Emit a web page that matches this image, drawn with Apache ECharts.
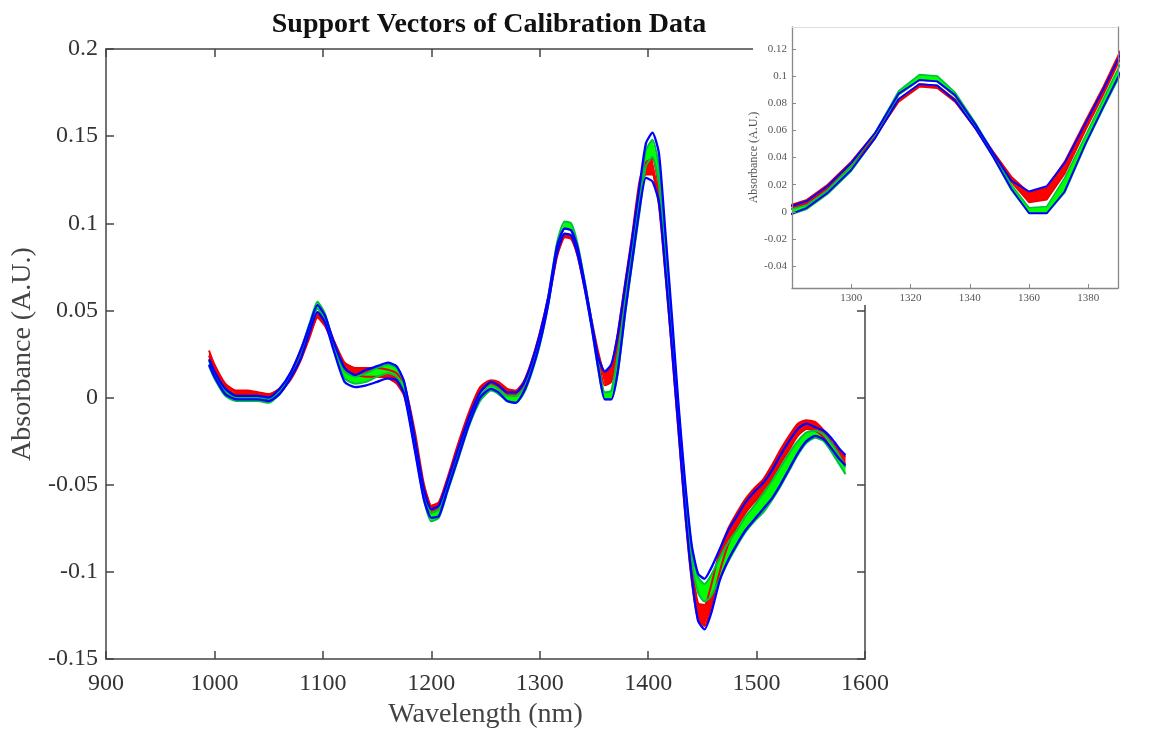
<!DOCTYPE html>
<html><head><meta charset="utf-8">
<script src="https://cdn.jsdelivr.net/npm/echarts@6/dist/echarts.min.js"></script>
<style>html,body{margin:0;padding:0;background:#fff}#c{width:1149px;height:734px}</style>
</head><body><div id="c"></div>
<script>
// Wavelengths (nm)
const W = [995, 1000, 1010, 1020, 1030, 1040, 1050, 1060, 1070, 1080,
  1088, 1095, 1102, 1110, 1120, 1130, 1140, 1150, 1160, 1168,
  1175, 1185, 1193, 1200, 1207, 1215, 1225, 1235, 1245, 1255,
  1262, 1270, 1278, 1285, 1292, 1300, 1308, 1316, 1323, 1329,
  1335, 1342, 1348, 1354, 1360, 1366, 1372, 1379, 1385, 1392,
  1398, 1404, 1410, 1416, 1422, 1428, 1434, 1440, 1446, 1452,
  1458, 1466, 1474, 1482, 1490, 1498, 1506, 1514, 1522, 1530,
  1538, 1546, 1554, 1562, 1570, 1576, 1582];

// Red group envelope
const redHi = [.027,.019,.008,.004,.004,.003,.002,.005,.013,.026,
  .039,.049,.045,.033,.020,.017,.017,.017,.016,.014,
  .008,-.020,-.049,-.062,-.060,-.046,-.026,-.008,.006,.010,
  .009,.005,.004,.009,.020,.037,.058,.083,.094,.093,
  .083,.063,.044,.026,.014,.018,.037,.067,.092,.124,
  .135,.137,.118,.078,.034,-.012,-.058,-.095,-.118,-.119,
  -.108,-.088,-.075,-.066,-.058,-.052,-.047,-.039,-.030,-.022,
  -.015,-.013,-.014,-.019,-.026,-.030,-.034];
const redLo = [.024,.016,.006,.002,.002,.001,.000,.003,.010,.022,
  .035,.046,.041,.030,.016,.013,.012,.012,.011,.008,
  .001,-.026,-.054,-.066,-.064,-.050,-.030,-.011,.003,.008,
  .006,.002,.001,.006,.017,.034,.055,.081,.092,.091,
  .081,.061,.041,.022,.007,.009,.028,.060,.086,.118,
  .128,.128,.110,.070,.026,-.020,-.066,-.104,-.127,-.131,
  -.120,-.100,-.084,-.074,-.066,-.060,-.055,-.047,-.038,-.030,
  -.022,-.018,-.019,-.023,-.030,-.035,-.038];

// Green group envelope
const greenHi = [.021,.014,.004,.000,.000,.000,-.001,.004,.014,.028,
  .043,.055,.048,.031,.015,.012,.014,.017,.019,.017,
  .008,-.024,-.053,-.066,-.064,-.050,-.031,-.013,.001,.007,
  .005,.001,.001,.005,.016,.034,.058,.089,.101,.100,
  .088,.065,.043,.020,.003,.004,.025,.056,.083,.114,
  .142,.148,.132,.088,.042,-.006,-.050,-.085,-.103,-.107,
  -.102,-.092,-.083,-.076,-.068,-.062,-.055,-.048,-.040,-.032,
  -.025,-.020,-.019,-.021,-.027,-.033,-.040];
const greenLo = [.018,.011,.001,-.002,-.002,-.002,-.003,.002,.011,.024,
  .039,.051,.045,.028,.011,.008,.009,.012,.014,.012,
  .003,-.030,-.058,-.071,-.069,-.054,-.035,-.016,-.002,.004,
  .002,-.002,-.003,.002,.013,.030,.054,.086,.097,.096,
  .085,.062,.040,.016,-.001,-.001,.014,.049,.076,.106,
  .133,.138,.122,.080,.034,-.012,-.056,-.092,-.112,-.117,
  -.114,-.104,-.094,-.085,-.077,-.071,-.066,-.059,-.051,-.042,
  -.033,-.026,-.023,-.025,-.032,-.038,-.044];

// Blue group envelope
const blueHi = [.022,.015,.005,.001,.001,.001,.000,.005,.014,.028,
  .042,.053,.047,.032,.017,.013,.016,.018,.020,.018,
  .009,-.024,-.052,-.064,-.062,-.048,-.029,-.011,.003,.009,
  .007,.003,.003,.008,.019,.036,.058,.087,.097,.096,
  .086,.064,.043,.023,.015,.019,.036,.065,.090,.121,
  .146,.152,.140,.094,.046,-.004,-.048,-.084,-.101,-.104,
  -.098,-.087,-.076,-.068,-.060,-.054,-.049,-.042,-.033,-.025,
  -.018,-.015,-.017,-.019,-.024,-.029,-.033];
const blueLo = [.019,.012,.002,-.001,-.001,-.001,-.002,.002,.011,.023,
  .038,.049,.043,.027,.009,.006,.007,.009,.011,.010,
  .002,-.031,-.058,-.069,-.068,-.053,-.034,-.015,.000,.005,
  .003,-.002,-.003,.003,.014,.031,.054,.083,.094,.093,
  .082,.061,.040,.017,-.001,-.001,.015,.050,.077,.108,
  .126,.124,.112,.072,.028,-.018,-.064,-.102,-.128,-.133,
  -.124,-.105,-.093,-.084,-.076,-.070,-.064,-.058,-.050,-.041,
  -.032,-.025,-.022,-.024,-.030,-.035,-.039];

const insetXTicks = [1300, 1320, 1340, 1360, 1380];
const insetYTicks = [-0.04, -0.02, 0, 0.02, 0.04, 0.06, 0.08, 0.1, 0.12];

const SERIF = '"Liberation Serif", "Times New Roman", serif';
const plain = v => String(v);

function linePts(arr) { return W.map((w, i) => [w, arr[i]]); }

function band(hi, lo, color, xi, yi, z) {
  return {
    type: 'custom', xAxisIndex: xi, yAxisIndex: yi, z: z, silent: true,
    data: W.map((w, i) => [w, lo[i], hi[i]]),
    encode: { x: 0, y: [1, 2] },
    renderItem: function (params, api) {
      if (params.dataIndex !== 0) return null;
      const pts = [];
      for (let i = 0; i < W.length; i++) pts.push(api.coord([W[i], hi[i]]));
      for (let i = W.length - 1; i >= 0; i--) pts.push(api.coord([W[i], lo[i]]));
      const cs = params.coordSys;
      return {
        type: 'polygon', shape: { points: pts }, style: { fill: color },
        clipPath: { type: 'rect', shape: { x: cs.x, y: cs.y, width: cs.width, height: cs.height } }
      };
    }
  };
}
function ln(arr, color, w, xi, yi, z, sm) {
  return {
    type: 'line', xAxisIndex: xi, yAxisIndex: yi, z: z, data: linePts(arr),
    showSymbol: false, symbol: 'none', silent: true, clip: true, smooth: sm,
    lineStyle: { color: color, width: w }
  };
}
function group(xi, yi, z, lw, sm) {
  return [
    band(redHi, redLo, '#ff0000', xi, yi, z),
    ln(redHi, '#ee0000', lw, xi, yi, z, sm), ln(redLo, '#ee0000', lw, xi, yi, z, sm),
    band(greenHi, greenLo, '#00ff00', xi, yi, z),
    ln(greenHi, '#00c040', lw, xi, yi, z, sm), ln(greenLo, '#00c040', lw, xi, yi, z, sm),
    ln(blueHi, '#0000ff', lw + 0.3, xi, yi, z, sm), ln(blueLo, '#0000ff', lw + 0.3, xi, yi, z, sm)
  ];
}

const mainLine = { show: true, onZero: false, lineStyle: { color: '#444', width: 1.5 } };
const mainTick = { show: true, inside: true, length: 8, lineStyle: { color: '#444', width: 1.5 } };
const insLine = { show: true, onZero: false, lineStyle: { color: '#888', width: 1.3 } };
const insTick = { show: true, inside: true, length: 4, lineStyle: { color: '#888', width: 1 } };

const chart = echarts.init(document.getElementById('c'), null, { renderer: 'canvas' });
chart.setOption({
  animation: false,
  backgroundColor: '#fff',
  title: {
    text: 'Support Vectors of Calibration Data', left: 484, top: 6, textAlign: 'center',
    textStyle: { fontFamily: SERIF, fontWeight: 'bold', fontSize: 28, color: '#111' }
  },
  grid: [
    { left: 106, right: 284, top: 49, bottom: 69, containLabel: false },
    { left: 792, right: 31, top: 27, bottom: 446, containLabel: false, z: 4 }
  ],
  graphic: [
    { type: 'rect', z: 3, silent: true, shape: { x: 753, y: 0, width: 396, height: 305 }, style: { fill: '#fff' } }
  ],
  xAxis: [
    { type: 'value', gridIndex: 0, position: 'bottom', min: 900, max: 1600, interval: 100,
      axisLine: mainLine, axisTick: mainTick, splitLine: { show: false },
      axisLabel: { color: '#333', fontFamily: SERIF, fontSize: 24, margin: 13, formatter: plain },
      name: 'Wavelength (nm)', nameLocation: 'middle', nameGap: 42,
      nameTextStyle: { color: '#444', fontFamily: SERIF, fontSize: 28 } },
    { type: 'value', gridIndex: 0, position: 'top', min: 900, max: 1600, interval: 100,
      axisLine: mainLine, axisTick: mainTick, splitLine: { show: false }, axisLabel: { show: false } },
    { type: 'value', gridIndex: 1, position: 'bottom', min: 1280, max: 1390, z: 6,
      axisLine: insLine, axisTick: Object.assign({ customValues: insetXTicks }, insTick),
      splitLine: { show: false },
      axisLabel: { customValues: insetXTicks, color: '#555', fontFamily: SERIF, fontSize: 11, margin: 5, formatter: plain } },
    { type: 'value', gridIndex: 1, position: 'top', min: 1280, max: 1390, z: 6,
      axisLine: { show: true, onZero: false, lineStyle: { color: '#ddd', width: 1 } },
      axisTick: { show: false }, axisLabel: { show: false }, splitLine: { show: false } }
  ],
  yAxis: [
    { type: 'value', gridIndex: 0, position: 'left', min: -0.15, max: 0.2, interval: 0.05,
      axisLine: mainLine, axisTick: mainTick, splitLine: { show: false },
      axisLabel: { color: '#333', fontFamily: SERIF, fontSize: 24, margin: 8 },
      name: 'Absorbance (A.U.)', nameLocation: 'middle', nameGap: 62, nameRotate: 90,
      nameTextStyle: { color: '#444', fontFamily: SERIF, fontSize: 28 } },
    { type: 'value', gridIndex: 0, position: 'right', min: -0.15, max: 0.2, interval: 0.05,
      axisLine: mainLine, axisTick: mainTick, splitLine: { show: false }, axisLabel: { show: false } },
    { type: 'value', gridIndex: 1, position: 'left', min: -0.056, max: 0.136, z: 6,
      axisLine: insLine, axisTick: Object.assign({ customValues: insetYTicks }, insTick),
      splitLine: { show: false },
      axisLabel: { customValues: insetYTicks, color: '#555', fontFamily: SERIF, fontSize: 11, margin: 5 },
      name: 'Absorbance (A.U.)', nameLocation: 'middle', nameGap: 30, nameRotate: 90,
      nameTextStyle: { color: '#555', fontFamily: SERIF, fontSize: 12 } },
    { type: 'value', gridIndex: 1, position: 'right', min: -0.056, max: 0.136, z: 6,
      axisLine: insLine, axisTick: { show: false }, axisLabel: { show: false }, splitLine: { show: false } }
  ],
  series: [].concat(group(0, 0, 2, 2, 0.2), group(2, 2, 5, 1.6, false))
});
</script></body></html>
